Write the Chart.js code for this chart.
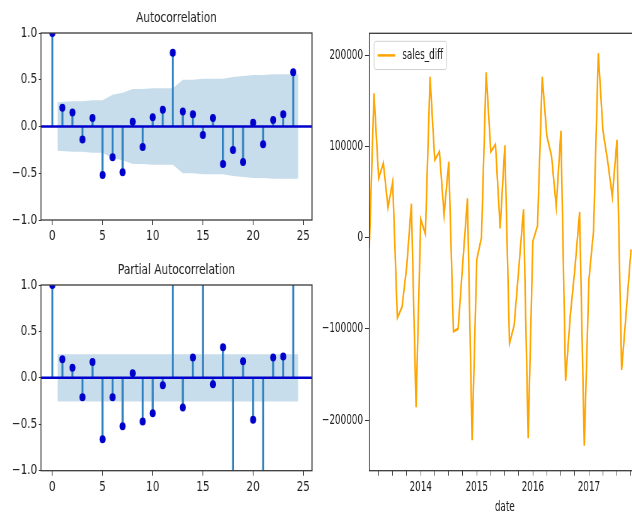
<!DOCTYPE html>
<html>
<head>
<meta charset="utf-8">
<title>sales_diff: ACF / PACF</title>
<script src="https://cdn.jsdelivr.net/npm/chart.js@4.4.1/dist/chart.umd.min.js"></script>
<style>
  html, body { margin: 0; padding: 0; background: #fff; }
  body { width: 632px; height: 516px; overflow: hidden; position: relative; }
  canvas { position: absolute; transform-origin: 0 0; }
  #acf { left: 0; top: 0; transform: scaleX(0.75); }
  #pacf { left: 0; top: 252px; transform: scaleX(0.75); }
  #sales { left: 316px; top: 0; transform: scaleX(0.63); }
</style>
</head>
<body>
<canvas id="acf" width="430" height="250"></canvas>
<canvas id="pacf" width="430" height="250"></canvas>
<canvas id="sales" width="530" height="516"></canvas>
<script>
// correlogram data (lags 0..24)
const lags = [0, 1, 2, 3, 4, 5, 6, 7, 8, 9, 10, 11, 12, 13, 14, 15, 16, 17, 18, 19, 20, 21, 22, 23, 24];
const acfValues = [1.0, 0.20, 0.15, -0.14, 0.09, -0.52, -0.33, -0.49, 0.05, -0.22, 0.10, 0.18, 0.79,
                   0.16, 0.13, -0.09, 0.09, -0.40, -0.25, -0.38, 0.04, -0.19, 0.07, 0.13, 0.58];
const pacfValues = [1.0, 0.20, 0.11, -0.21, 0.17, -0.66, -0.21, -0.52, 0.05, -0.47, -0.38, -0.08, 1.25,
                    -0.32, 0.22, 1.15, -0.07, 0.33, -1.35, 0.18, -0.45, -1.2, 0.22, 0.23, 1.4];

// confidence band half-widths (lags 1..24, ends pushed out by half a lag)
const bandLags = [0.5, 2, 3, 4, 5, 6, 7, 8, 9, 10, 11, 12, 13, 14, 15, 16, 17, 18, 19, 20, 21, 22, 23, 24.5];
const acfBand = [0.26, 0.27, 0.27, 0.28, 0.28, 0.34, 0.36, 0.40, 0.40, 0.41, 0.41, 0.41,
                 0.50, 0.50, 0.51, 0.51, 0.51, 0.53, 0.54, 0.55, 0.55, 0.56, 0.56, 0.56];
const pacfBand = [0.255, 0.255, 0.255, 0.255, 0.255, 0.255, 0.255, 0.255, 0.255, 0.255, 0.255, 0.255,
                  0.255, 0.255, 0.255, 0.255, 0.255, 0.255, 0.255, 0.255, 0.255, 0.255, 0.255, 0.255];

const lagTicks = [0, 5, 10, 15, 20, 25];
const corrTicks = [-1, -0.5, 0, 0.5, 1];

// monthly differenced sales
const months = [
  '2013-02', '2013-03', '2013-04', '2013-05', '2013-06', '2013-07', '2013-08', '2013-09', '2013-10', '2013-11', '2013-12',
  '2014-01', '2014-02', '2014-03', '2014-04', '2014-05', '2014-06', '2014-07', '2014-08', '2014-09', '2014-10', '2014-11', '2014-12',
  '2015-01', '2015-02', '2015-03', '2015-04', '2015-05', '2015-06', '2015-07', '2015-08', '2015-09', '2015-10', '2015-11', '2015-12',
  '2016-01', '2016-02', '2016-03', '2016-04', '2016-05', '2016-06', '2016-07', '2016-08', '2016-09', '2016-10', '2016-11', '2016-12',
  '2017-01', '2017-02', '2017-03', '2017-04', '2017-05', '2017-06', '2017-07', '2017-08', '2017-09', '2017-10'
];
const salesDiff = [
  -12000, 158000, 65000, 81500, 33000, 61000, -88000, -76000, -32000, 37000, -186000,
  20000, 4000, 176000, 85000, 94000, 25000, 83000, -103000, -100000, -28000, 43000, -222000,
  -24000, 0, 181000, 94000, 102000, 10000, 101000, -116000, -96000, -33000, 31000, -220000,
  -4000, 13000, 176000, 111000, 89000, 34000, 117000, -157000, -86000, -34000, 28000, -228000,
  -46000, 8000, 202000, 117000, 84000, 45000, 107000, -145000, -80000, -13000
];
const yearTicks = [2014, 2015, 2016, 2017];
const salesTicks = [-200000, -100000, 0, 100000, 200000];

Chart.defaults.font.family = "'DejaVu Sans', sans-serif";
Chart.defaults.font.size = 14;
Chart.defaults.color = '#222';

const minus = v => (v < 0 ? '\u2212' : '');
const decimalYear = m => parseInt(m.slice(0, 4)) + (parseInt(m.slice(5, 7)) - 1) / 12;

// full box round the plot area
const frame = {
  id: 'frame',
  afterDraw(chart) {
    const { ctx, chartArea: a } = chart;
    ctx.save();
    ctx.strokeStyle = '#3a3a3a';
    ctx.lineWidth = 1.3;
    ctx.strokeRect(a.left, a.top, a.right - a.left, a.bottom - a.top);
    ctx.restore();
  }
};

// horizontal line at zero, under the markers
const zeroLine = {
  id: 'zeroLine',
  beforeDatasetDraw(chart, args) {
    if (!chart.data.datasets[args.index].zeroLine) return;
    const { ctx, chartArea: a } = chart;
    const y = chart.scales.y.getPixelForValue(0);
    ctx.save();
    ctx.strokeStyle = '#0000cd';
    ctx.lineWidth = 2.5;
    ctx.beginPath();
    ctx.moveTo(a.left, y);
    ctx.lineTo(a.right, y);
    ctx.stroke();
    ctx.restore();
  }
};

// boxed legend in the upper left corner of the plot area
const legendBox = {
  id: 'legendBox',
  afterDraw(chart) {
    const { ctx, chartArea: a } = chart;
    const ds = chart.data.datasets[0];
    const fs = 14, pad = 0.4 * fs, handle = 2 * fs, gap = 0.8 * fs;
    ctx.save();
    ctx.font = fs + "px 'DejaVu Sans'";
    const textW = ctx.measureText(ds.label).width;
    const x = a.left + 7.5, y = a.top + 8;
    const w = pad + handle + gap + textW + pad, h = 2 * pad + 17;
    ctx.beginPath();
    ctx.roundRect(x, y, w, h, 3);
    ctx.fillStyle = 'rgba(255,255,255,0.8)';
    ctx.fill();
    ctx.strokeStyle = '#d0d0d0';
    ctx.lineWidth = 1;
    ctx.stroke();
    ctx.beginPath();
    ctx.moveTo(x + pad, y + h / 2);
    ctx.lineTo(x + pad + handle, y + h / 2);
    ctx.strokeStyle = ds.borderColor;
    ctx.lineWidth = 2.5;
    ctx.stroke();
    ctx.fillStyle = '#222';
    ctx.textBaseline = 'middle';
    ctx.fillText(ds.label, x + pad + handle + gap, y + h / 2);
    ctx.restore();
  }
};

function corrChart(id, title, values, band, xAxisHeight) {
  const stems = lags.map((l, i) => ({ x: l, y: values[i] }));
  const upper = bandLags.map((l, i) => ({ x: l, y: band[i] }));
  const lower = bandLags.map((l, i) => ({ x: l, y: -band[i] }));

  return new Chart(document.getElementById(id), {
    type: 'scatter',
    data: {
      datasets: [
        { type: 'line', data: upper, fill: '+1', backgroundColor: 'rgba(31,119,180,0.25)',
          borderColor: 'transparent', borderWidth: 0, pointRadius: 0, order: 5 },
        { type: 'line', data: lower, fill: false, borderColor: 'transparent', borderWidth: 0,
          pointRadius: 0, order: 4 },
        { type: 'bar', data: stems, backgroundColor: '#2f80c0', barThickness: 2, grouped: false, order: 3 },
        { type: 'scatter', data: stems, pointRadius: 4, pointBackgroundColor: '#0000cd',
          pointBorderWidth: 0, clip: 0, order: 1, zeroLine: true }
      ]
    },
    options: {
      responsive: false,
      animation: false,
      events: [],
      layout: { padding: { left: 0, right: 14, top: 0, bottom: 0 } },
      plugins: {
        legend: { display: false },
        tooltip: { enabled: false },
        title: {
          display: true, text: title, fullSize: false, color: '#222',
          font: { size: 14, weight: 'normal' }, padding: { top: 9.5, bottom: 6.7 }
        }
      },
      scales: {
        x: {
          type: 'linear', min: -1.13, max: 25.87, offset: false,
          afterBuildTicks: s => { s.ticks = lagTicks.map(v => ({ value: v })); },
          afterFit: s => { s.height = xAxisHeight; },
          border: { display: false },
          grid: { offset: false, drawOnChartArea: false, tickLength: 5, tickColor: '#333' },
          ticks: { padding: 3, autoSkip: false, maxRotation: 0, callback: v => String(v) }
        },
        y: {
          type: 'linear', min: -1, max: 1,
          afterBuildTicks: s => { s.ticks = corrTicks.map(v => ({ value: v })); },
          afterFit: s => { s.width = 54.7; },
          border: { display: false },
          grid: { drawOnChartArea: false, tickLength: 3, tickColor: '#333' },
          ticks: { padding: 2, callback: v => minus(v) + Math.abs(v).toFixed(1) }
        }
      }
    },
    plugins: [zeroLine, frame]
  });
}

corrChart('acf', 'Autocorrelation', acfValues, acfBand, 30);
corrChart('pacf', 'Partial Autocorrelation', pacfValues, pacfBand, 31.3);

// quarterly minor ticks between the year labels
const quarterTicks = [];
for (let y = 2013; y <= 2017; y++) {
  [0, 0.25, 0.5, 0.75].forEach(q => {
    const v = y + q;
    if (v > 2013.1 && v < 2017.9) quarterTicks.push(v);
  });
}

new Chart(document.getElementById('sales'), {
  type: 'line',
  data: {
    datasets: [{
      label: 'sales_diff',
      data: months.map((m, i) => ({ x: decimalYear(m), y: salesDiff[i] })),
      borderColor: '#ffa500',
      borderWidth: 2.5,
      pointRadius: 0,
      fill: false,
      tension: 0
    }]
  },
  options: {
    responsive: false,
    animation: false,
    events: [],
    layout: { padding: { left: 0, right: 15.2, top: 33.3, bottom: 0 } },
    plugins: { legend: { display: false }, tooltip: { enabled: false } },
    scales: {
      x: {
        type: 'linear', min: 2013 + 1 / 12, max: 2017 + 11 / 12,
        afterBuildTicks: s => { s.ticks = quarterTicks.map(v => ({ value: v })); },
        afterFit: s => { s.height = 45.3; },
        border: { display: false },
        grid: { drawOnChartArea: false, tickLength: 5, tickColor: '#333' },
        ticks: {
          padding: 3, autoSkip: false, maxRotation: 0,
          callback: v => (yearTicks.includes(v) ? String(v) : '')
        },
        title: { display: true, text: 'date', color: '#222', padding: { top: 0, bottom: 0 } }
      },
      y: {
        type: 'linear', min: -255500, max: 223800,
        afterBuildTicks: s => { s.ticks = salesTicks.map(v => ({ value: v })); },
        afterFit: s => { s.width = 84.6; },
        border: { display: false },
        grid: { drawOnChartArea: false, tickLength: 6.8, tickColor: '#333' },
        ticks: { padding: 3.2, callback: v => minus(v) + Math.abs(v) }
      }
    }
  },
  plugins: [frame, legendBox]
});
</script>
</body>
</html>
